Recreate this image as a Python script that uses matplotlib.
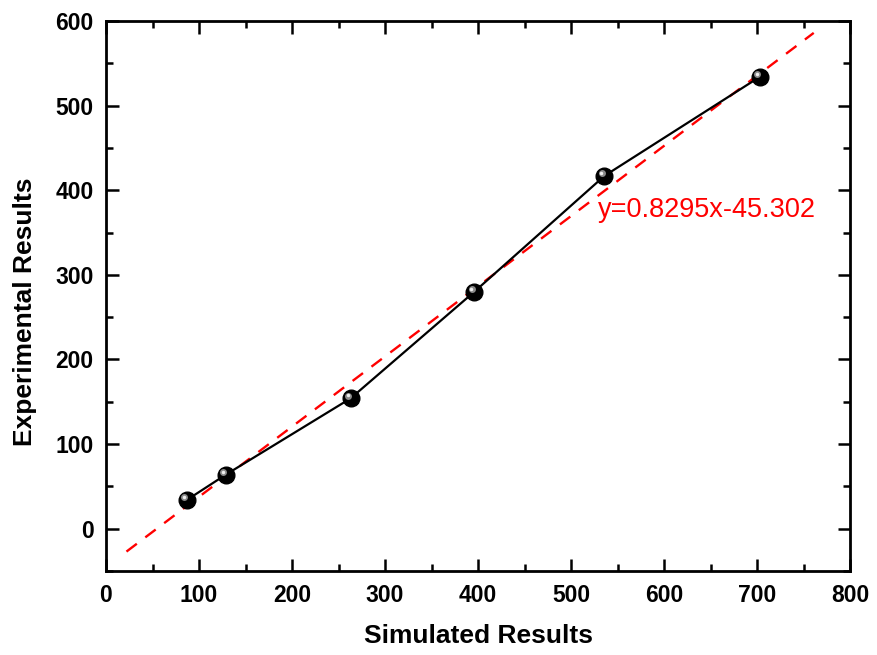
import matplotlib
matplotlib.use("Agg")
import matplotlib.pyplot as plt
import matplotlib.transforms as mtransforms
from matplotlib.ticker import MultipleLocator
import numpy as np

# Measured data
simulated = [87, 129, 263, 396, 536, 703]
experimental = [34, 64, 154, 280, 417, 534]

# Linear fit shown as dashed line
fit_slope = 0.8295
fit_intercept = -45.302
fit_x_range = [22, 761]
fit_label = "y=0.8295x-45.302"

x_ticks = [0, 100, 200, 300, 400, 500, 600, 700, 800]
y_ticks = [0, 100, 200, 300, 400, 500, 600]

plt.rcParams['font.family'] = ['Liberation Sans', 'DejaVu Sans']

fig = plt.figure(figsize=(8.77, 6.55), dpi=100)
ax = fig.add_axes([106 / 877, 1 - 571 / 655, 744 / 877, 550 / 655])

fx = np.array(fit_x_range, dtype=float)
ax.plot(fx, fit_slope * fx + fit_intercept, color='#ff0000', lw=1.7,
        linestyle=(0, (5.5, 4.5)), zorder=2)

ax.plot(simulated, experimental, color='black', lw=1.6, zorder=3)

# spherical markers: dark ball with a light highlight
ax.plot(simulated, experimental, linestyle='none', marker='o', ms=12,
        mfc='black', mec='black', zorder=4)
hl = mtransforms.offset_copy(ax.transData, fig=fig, x=-2.5, y=2.5, units='dots')
ax.plot(simulated, experimental, linestyle='none', marker='o', ms=5,
        mfc='#8a8a8a', mec='none', transform=hl, zorder=5)
hl2 = mtransforms.offset_copy(ax.transData, fig=fig, x=-3, y=3, units='dots')
ax.plot(simulated, experimental, linestyle='none', marker='o', ms=2.5,
        mfc='#eeeeee', mec='none', transform=hl2, zorder=6)

ax.text(529, 377, fit_label, color='#ff0000', fontsize=19.5,
        ha='left', va='center')

ax.set_xlim(0, 800)
ax.set_ylim(-50, 600)
ax.set_xticks(x_ticks)
ax.set_yticks(y_ticks)
ax.xaxis.set_minor_locator(MultipleLocator(50))
ax.yaxis.set_minor_locator(MultipleLocator(50))
ax.tick_params(which='both', direction='in', top=True, right=True, width=1.8)
ax.tick_params(which='major', length=9, labelsize=16.5)
ax.tick_params(axis='x', which='major', pad=9)
ax.tick_params(axis='y', which='major', pad=9)
ax.tick_params(which='minor', length=5)
for lbl in ax.get_xticklabels() + ax.get_yticklabels():
    lbl.set_fontweight('bold')
for sp in ax.spines.values():
    sp.set_linewidth(2)

ax.set_xlabel("Simulated Results", fontsize=19, fontweight='bold')
ax.set_ylabel("Experimental Results", fontsize=19, fontweight='bold')
ax.xaxis.set_label_coords((479 - 106) / 744, -(624 - 571) / 550)
ax.yaxis.set_label_coords(-(106 - 37) / 744, (571 - 312) / 550)

fig.savefig("out.png", dpi=100)
